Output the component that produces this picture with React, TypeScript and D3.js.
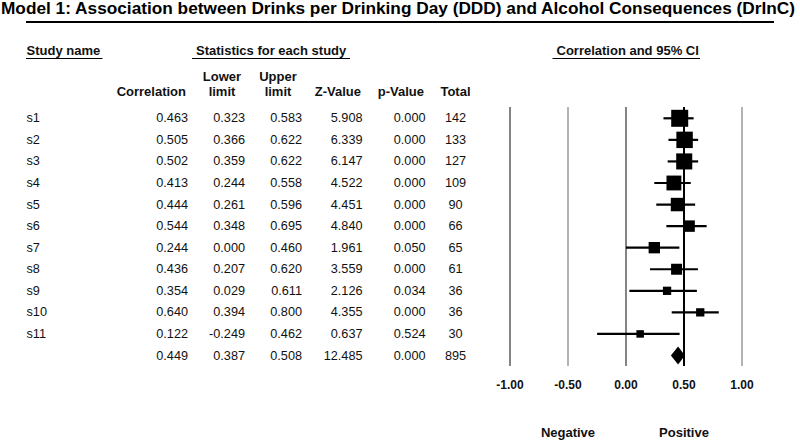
import React from "react";
import * as d3 from "d3";

const titleText =
  "Model 1: Association between Drinks per Drinking Day (DDD) and Alcohol Consequences (DrInC)";
const studies = ["s1", "s2", "s3", "s4", "s5", "s6", "s7", "s8", "s9", "s10", "s11"];
const correlation = [0.463, 0.505, 0.502, 0.413, 0.444, 0.544, 0.244, 0.436, 0.354, 0.64, 0.122];
const lowerLimit = [0.323, 0.366, 0.359, 0.244, 0.261, 0.348, 0.0, 0.207, 0.029, 0.394, -0.249];
const upperLimit = [0.583, 0.622, 0.622, 0.558, 0.596, 0.695, 0.46, 0.62, 0.611, 0.8, 0.462];
const zValue = [5.908, 6.339, 6.147, 4.522, 4.451, 4.84, 1.961, 3.559, 2.126, 4.355, 0.637];
const pValue = [0.0, 0.0, 0.0, 0.0, 0.0, 0.0, 0.05, 0.0, 0.034, 0.0, 0.524];
const total = [142, 133, 127, 109, 90, 66, 65, 61, 36, 36, 30];
const summary = { corr: 0.449, lower: 0.387, upper: 0.508, z: 12.485, p: 0.0, n: 895 };
const ticks = [-1, -0.5, 0, 0.5, 1];

const FONT = "'Liberation Sans', Arial, sans-serif";

const locale = d3.formatLocale({
  decimal: ".",
  thousands: ",",
  grouping: [3],
  currency: ["", ""],
  minus: "-",
});

export default function App() {
  const x = d3.scaleLinear().domain([-1, 1]).range([510, 742]);
  const rowIdx = d3.range(studies.length + 1);
  const y = d3.scaleLinear().domain([0, studies.length]).range([118.3, 355.5]);
  const size = d3.scaleSqrt().domain([0, d3.max(total, (n) => n - 3)!]).range([0, 17]);
  const f3 = locale.format(".3f");
  const fTick = locale.format(".2f");

  const gridColor = (t: number) =>
    t === 0.5 ? "#000" : t === -1 || t === 0 ? "#333" : "#808080";

  const valueText = { fontFamily: FONT, fontSize: 12.7, fill: "#111" } as const;
  const headBold = { fontFamily: FONT, fontSize: 13, fontWeight: 700, fill: "#111" } as const;

  const cols: { x: number; anchor: "end" | "middle"; get: (i: number) => string }[] = [
    { x: 188, anchor: "end", get: (i) => (i < studies.length ? f3(correlation[i]) : f3(summary.corr)) },
    { x: 245, anchor: "end", get: (i) => (i < studies.length ? f3(lowerLimit[i]) : f3(summary.lower)) },
    { x: 302, anchor: "end", get: (i) => (i < studies.length ? f3(upperLimit[i]) : f3(summary.upper)) },
    { x: 362.5, anchor: "end", get: (i) => (i < studies.length ? f3(zValue[i]) : f3(summary.z)) },
    { x: 425.5, anchor: "end", get: (i) => (i < studies.length ? f3(pValue[i]) : f3(summary.p)) },
    { x: 455.5, anchor: "middle", get: (i) => (i < studies.length ? String(total[i]) : String(summary.n)) },
  ];

  const sy = y(studies.length);
  const dh = 9;
  const diamond = [
    [x(summary.lower), sy],
    [x(summary.corr), sy - dh],
    [x(summary.upper), sy],
    [x(summary.corr), sy + dh],
  ];

  return (
    <svg
      width={800}
      height={440}
      style={{ position: "absolute", left: 0, top: 0, background: "#fff" }}
    >
      <rect width={800} height={440} fill="#fff" />
      <text
        x={1}
        y={14}
        fontFamily={FONT}
        fontSize={16.5}
        fontWeight={700}
        fill="#000"
        textLength={794}
        lengthAdjust="spacingAndGlyphs"
      >
        {titleText}
      </text>
      <line x1={26} x2={774} y1={22} y2={22} stroke="#000" strokeWidth={2} />

      {/* Section headers */}
      <text x={26.5} y={55} {...headBold}>Study name</text>
      <line x1={26} x2={102.5} y1={58.5} y2={58.5} stroke="#000" strokeWidth={1} />
      <text x={196} y={55} {...headBold}>Statistics for each study</text>
      <line x1={192} x2={350} y1={58.5} y2={58.5} stroke="#000" strokeWidth={1} />
      <text x={556.5} y={55} {...headBold}>Correlation and 95% CI</text>
      <line x1={552.5} x2={700} y1={58.5} y2={58.5} stroke="#000" strokeWidth={1} />

      {/* Column headers */}
      <text x={186} y={96} textAnchor="end" {...headBold}>Correlation</text>
      <text x={222} y={81} textAnchor="middle" {...headBold}>Lower</text>
      <text x={222} y={96} textAnchor="middle" {...headBold}>limit</text>
      <text x={278} y={81} textAnchor="middle" {...headBold}>Upper</text>
      <text x={278} y={96} textAnchor="middle" {...headBold}>limit</text>
      <text x={361} y={96} textAnchor="end" {...headBold}>Z-Value</text>
      <text x={424} y={96} textAnchor="end" {...headBold}>p-Value</text>
      <text x={455.5} y={96} textAnchor="middle" {...headBold}>Total</text>

      {/* Rows */}
      {rowIdx.map((i) => (
        <g key={i}>
          {i < studies.length && (
            <text x={26.5} y={y(i)} dominantBaseline="central" {...valueText}>
              {studies[i]}
            </text>
          )}
          {cols.map((c, k) => (
            <text
              key={k}
              x={c.x}
              y={y(i)}
              textAnchor={c.anchor}
              dominantBaseline="central"
              {...valueText}
            >
              {c.get(i)}
            </text>
          ))}
        </g>
      ))}

      {/* Grid lines */}
      {ticks.map((t) => (
        <g key={t}>
          <line
            x1={x(t)}
            x2={x(t)}
            y1={107}
            y2={366}
            stroke={gridColor(t)}
            strokeWidth={t === 0.5 ? 2 : 1.2}
          />
          <text
            x={x(t)}
            y={385}
            textAnchor="middle"
            dominantBaseline="central"
            fontFamily={FONT}
            fontSize={12}
            fontWeight={700}
            fill="#111"
          >
            {fTick(t)}
          </text>
        </g>
      ))}

      {/* Study markers */}
      {studies.map((s, i) => {
        const side = size(total[i] - 3);
        return (
          <g key={s}>
            <line
              x1={x(lowerLimit[i])}
              x2={x(upperLimit[i])}
              y1={y(i)}
              y2={y(i)}
              stroke="#000"
              strokeWidth={2.2}
            />
            <rect
              x={x(correlation[i]) - side / 2}
              y={y(i) - side / 2}
              width={side}
              height={side}
              fill="#000"
            />
          </g>
        );
      })}

      <polygon points={diamond.map((p) => p.join(",")).join(" ")} fill="#000" />

      <text x={x(-0.5)} y={432} textAnchor="middle" dominantBaseline="central" fontFamily={FONT} fontSize={13} fontWeight={700} fill="#111">
        Negative
      </text>
      <text x={x(0.5)} y={432} textAnchor="middle" dominantBaseline="central" fontFamily={FONT} fontSize={13} fontWeight={700} fill="#111">
        Positive
      </text>
    </svg>
  );
}
